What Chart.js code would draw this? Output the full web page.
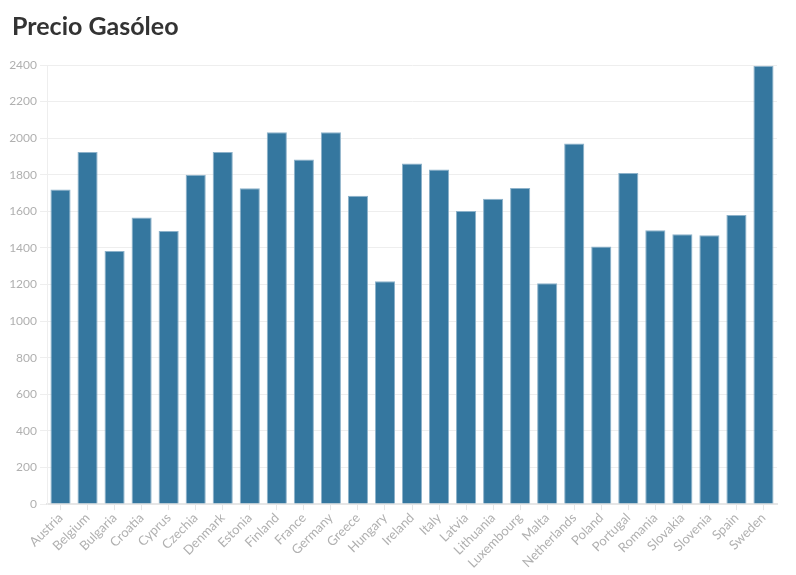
<!DOCTYPE html>
<html>
<head>
<meta charset="utf-8">
<script src="https://cdn.jsdelivr.net/npm/chart.js@4/dist/chart.umd.min.js"></script>
<style>
html,body{margin:0;padding:0;background:#fff;}
#wrap{width:796px;height:575px;}
</style>
</head>
<body>
<div id="wrap"><canvas id="c" width="796" height="575"></canvas></div>
<script>
const countries = ["Austria","Belgium","Bulgaria","Croatia","Cyprus","Czechia","Denmark","Estonia","Finland","France","Germany","Greece","Hungary","Ireland","Italy","Latvia","Lithuania","Luxembourg","Malta","Netherlands","Poland","Portugal","Romania","Slovakia","Slovenia","Spain","Sweden"];
const dieselPrice = [1719,1925,1384,1566,1492,1800,1925,1727,2032,1884,2032,1685,1218,1861,1829,1602,1669,1728,1207,1971,1408,1810,1497,1475,1470,1580,2396];
const chartTitle = "Precio Gasóleo";

Chart.defaults.font.family = "Lato, 'Noto Sans', sans-serif";
const titleShift = {
  id: 'titleShift',
  afterLayout(chart) { if (chart.titleBlock) { chart.titleBlock.left = 12; } }
};
new Chart(document.getElementById('c'), {
  type: 'bar',
  data: {
    labels: countries,
    datasets: [{
      data: dieselPrice,
      backgroundColor: '#35779f',
      borderColor: '#8db2ca',
      borderWidth: 1,
      borderSkipped: 'bottom',
      categoryPercentage: 0.8,
      barPercentage: 0.93
    }]
  },
  plugins: [titleShift],
  options: {
    responsive: false,
    animation: false,
    layout: { padding: { left: 6, right: 19, top: 4, bottom: 4 } },
    plugins: {
      legend: { display: false },
      tooltip: { enabled: false },
      title: {
        display: true,
        text: chartTitle,
        align: 'start',
        color: '#333333',
        font: { size: 25, weight: 'bold', family: "Lato, 'Noto Sans', sans-serif" },
        padding: { top: 8, bottom: 23 }
      }
    },
    scales: {
      x: {
        grid: { display: true, drawOnChartArea: false, offset: false, color: '#e6e6e6', tickLength: 6 },
        border: { display: true, color: '#e6e6e6', width: 2 },
        ticks: { color: '#b0b0b0', font: { size: 13 }, maxRotation: 45, minRotation: 45, autoSkip: false, padding: 0 }
      },
      y: {
        min: 0, max: 2400,
        afterFit: s => { s.width = 41; },
        ticks: { stepSize: 200, color: '#b0b0b0', font: { size: 12 }, padding: 3, callback: v => String(v) },
        grid: { color: '#eeeeee', tickLength: 7, lineWidth: 1 },
        border: { display: true, color: '#eeeeee' }
      }
    }
  }
});
</script>
</body>
</html>
